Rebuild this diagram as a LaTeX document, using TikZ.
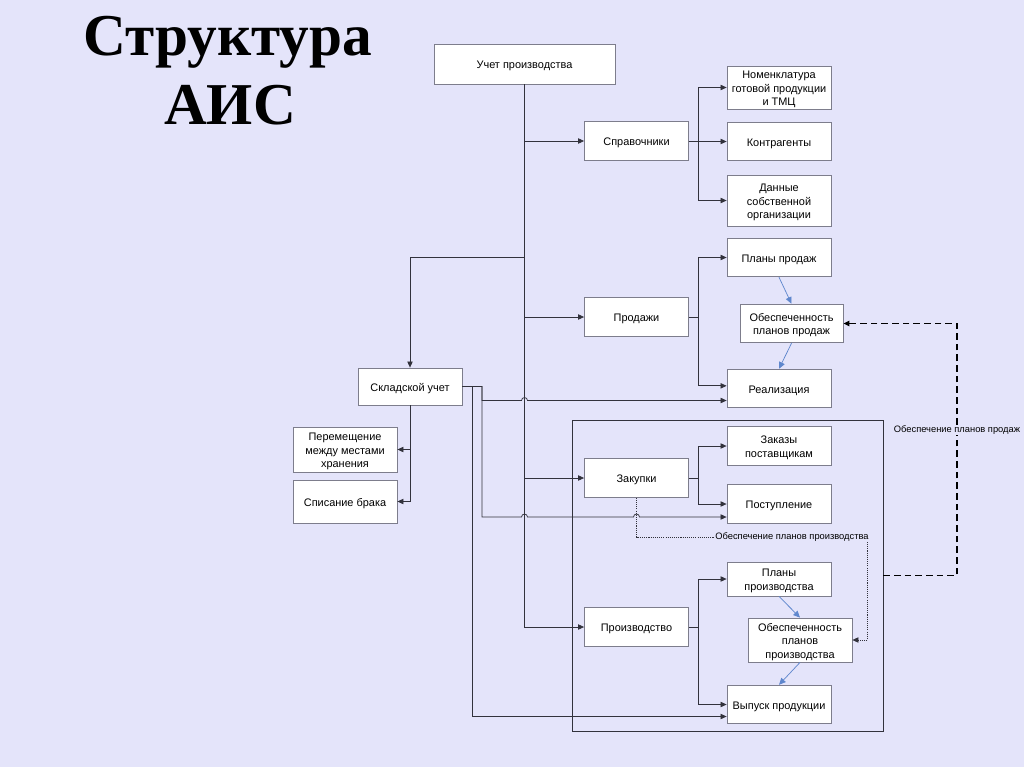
\documentclass[tikz,border=0pt]{standalone}
\usepackage{fontspec}
\setsansfont{Liberation Sans}
\newfontfamily\titlefont{Liberation Serif}
\usetikzlibrary{arrows.meta}
\definecolor{bg}{RGB}{228,228,250}
\definecolor{boxline}{RGB}{125,125,140}
\definecolor{conn}{RGB}{50,50,60}
\definecolor{bluearr}{RGB}{95,135,205}
\newcommand\bx[1]{\raisebox{-1.5pt}[\height][\depth]{\begin{tabular}{@{}c@{}}#1\end{tabular}}}
\tikzset{
  box/.style={draw=boxline, line width=0.6pt, fill=white, inner sep=1pt,
    font=\sffamily\fontsize{8.2}{10.1}\selectfont, minimum width=78pt, minimum height=29pt},
  conn/.style={draw=conn, line width=0.55pt},
  arr/.style={conn, -{Triangle[length=4.5pt,width=4pt]}},
  barr/.style={draw=bluearr, line width=0.55pt, -{Triangle[length=5pt,width=4.5pt]}},
  dashline/.style={draw=black, line width=1pt, dash pattern=on 5pt off 3pt, -{Triangle[length=4.5pt,width=4pt]}},
  dotline/.style={draw=conn, line width=0.5pt, dash pattern=on 0.8pt off 0.8pt, -{Triangle[length=4.5pt,width=4pt]}},
  lab/.style={fill=bg, inner sep=0.5pt, font=\sffamily\fontsize{7}{8}\selectfont},
  jump/.style={start angle=180, end angle=0, radius=2.25pt}
}
\begin{document}
\begin{tikzpicture}[x=0.75pt,y=-0.75pt]
\fill[bg] (0,0) rectangle (1024,767);
\useasboundingbox (0,0) rectangle (1024,767);

% title
\node[anchor=base, inner sep=0, font=\titlefont\bfseries\fontsize{44.5}{51}\selectfont] (t1) at (228,56) {Структура};
\node[anchor=base, inner sep=0, font=\titlefont\bfseries\fontsize{44.5}{51}\selectfont] (t2) at (230,124) {АИС};

% frame
\node[draw=conn, line width=0.55pt, minimum width=233.25pt, minimum height=233.25pt, inner sep=0] (frm) at (727.5,575.5) {};

% boxes
\node[box, minimum width=135.75pt, minimum height=30pt] (uch) at (524.5,64) {\bx{Учет производства}};
\node[box] (spr) at (636.5,141) {\bx{Справочники}};
\node[box, minimum height=32.25pt] (nom) at (779,87.5) {\bx{Номенклатура\\готовой продукции\\и ТМЦ}};
\node[box] (kon) at (779,141.5) {\bx{Контрагенты}};
\node[box, minimum height=38.25pt] (dan) at (779,200.5) {\bx{Данные\\собственной\\организации}};
\node[box] (plp) at (779,257.5) {\bx{Планы продаж}};
\node[box, minimum width=77.25pt] (obp) at (791.5,323.5) {\bx{Обеспеченность\\планов продаж}};
\node[box] (prd) at (636.5,317) {\bx{Продажи}};
\node[box] (rea) at (779,388.5) {\bx{Реализация}};
\node[box, minimum height=27.75pt] (skl) at (410,386.5) {\bx{Складской учет}};
\node[box, minimum height=33.75pt] (per) at (345,449.5) {\bx{Перемещение\\между местами\\хранения}};
\node[box, minimum height=32.25pt] (spi) at (345,501.5) {\bx{Списание брака}};
\node[box] (zak) at (779,446) {\bx{Заказы\\поставщикам}};
\node[box] (zkp) at (636.5,478) {\bx{Закупки}};
\node[box] (pos) at (779,504) {\bx{Поступление}};
\node[box, minimum height=25.5pt] (plpr) at (779,579) {\bx{Планы\\производства}};
\node[box, minimum height=33pt] (obpr) at (800,640) {\bx{Обеспеченность\\планов\\производства}};
\node[box] (proizv) at (636.5,627) {\bx{Производство}};
\node[box] (vyp) at (779,704.5) {\bx{Выпуск продукции}};

% trunk
\draw[arr] (uch.south) |- (proizv.west);
\draw[arr] (uch.south |- spr.west) -- (spr.west);
\draw[arr] (uch.south |- prd.west) -- (prd.west);
\draw[arr] (uch.south |- zkp.west) -- (zkp.west);
\draw[arr] (uch.south |- plp.west) -| (skl.north);

% buses
\draw[arr] (spr.east) -- ++(9,0) |- (nom.west);
\draw[arr] (spr.east) -- ++(9,0) |- (kon.west);
\draw[arr] (spr.east) -- ++(9,0) |- (dan.west);
\draw[arr] (prd.east) -- ++(9,0) |- (plp.west);
\draw[arr] (prd.east) -- ++(9,0) |- ([yshift=2pt]rea.west);
\draw[arr] (zkp.east) -- ++(9,0) |- (zak.west);
\draw[arr] (zkp.east) -- ++(9,0) |- (pos.west);
\draw[arr] (proizv.east) -- ++(9,0) |- (plpr.west);
\draw[arr] (proizv.east) -- ++(9,0) |- (vyp.west);

% warehouse
\draw[arr] (skl.south) |- (per.east);
\draw[arr] (skl.south) |- (spi.east);
\draw[arr] (skl.east) -| (482,400.5) -- (521.5,400.5) arc[jump] -- ([yshift=-9pt]rea.west);
\draw[arr] (skl.east) -| (482,517) -- (521.5,517) arc[jump] -- (633.5,517) arc[jump] -- ([yshift=-9.75pt]pos.west);
\draw[arr] (skl.east) -- (472,386.5) |- ([yshift=-9pt]vyp.west);

% blue arrows
\draw[barr] (plp.south) -- (obp.north);
\draw[barr] (obp.south) -- (rea.north);
\draw[barr] (plpr.south) -- (obpr.north);
\draw[barr] (obpr.south) -- (vyp.north);

% dashed and dotted links
\draw[dashline] (frm.east) -- (957,575.5) |- (obp.east);
\node[lab] (l1) at (957,430) {Обеспечение планов продаж};
\draw[dotline] (zkp.south) |- (867.5,537) |- (obpr.east);
\node[lab] (l2) at (792,537) {Обеспечение планов производства};
\end{tikzpicture}
\end{document}
